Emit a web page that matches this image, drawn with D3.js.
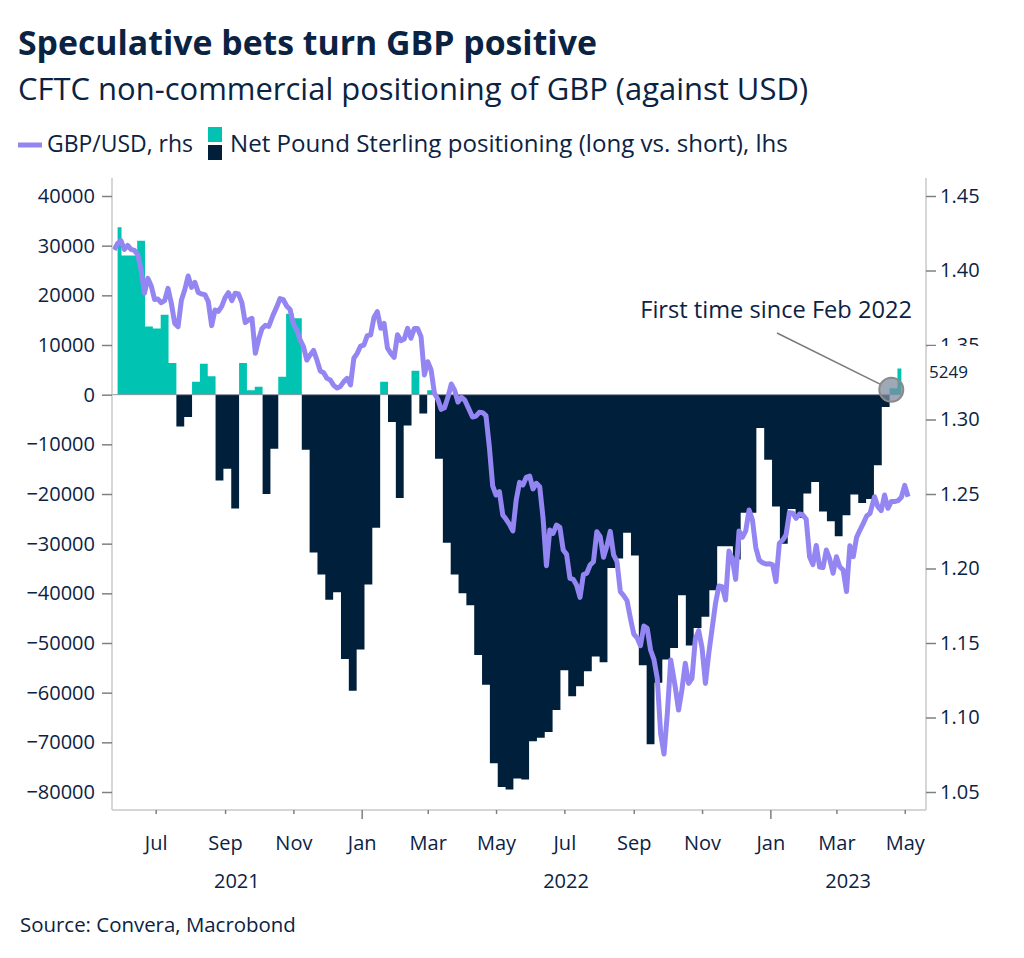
<!DOCTYPE html>
<html><head><meta charset="utf-8">
<script src="https://cdn.jsdelivr.net/npm/d3@7"></script>
<style>
body{margin:0;background:#fff;}
svg text{font-family:"Open Sans","Noto Sans",sans-serif;fill:#0b2343;}
</style></head><body>
<svg id="chart" width="1024" height="958"></svg>
<script>
// ---------- DATA ----------
const titleText = "Speculative bets turn GBP positive";
const subtitleText = "CFTC non-commercial positioning of GBP (against USD)";
const legendLineLabel = "GBP/USD, rhs";
const legendBarLabel = "Net Pound Sterling positioning (long vs. short), lhs";
const sourceText = "Source: Convera, Macrobond";
const annotationText = "First time since Feb 2022";
const lastValueLabel = "5249";

const leftTicks = [-80000,-70000,-60000,-50000,-40000,-30000,-20000,-10000,0,10000,20000,30000,40000];
const rightTicks = [1.05,1.10,1.15,1.20,1.25,1.30,1.35,1.40,1.45];
const yearLabels = ["2021","2022","2023"];

// weekly CFTC net positioning (contracts)
const barDates = [
"2021-05-28","2021-06-04","2021-06-11","2021-06-18","2021-06-25","2021-07-02","2021-07-09","2021-07-16","2021-07-23","2021-07-30",
"2021-08-06","2021-08-13","2021-08-20","2021-08-27","2021-09-03","2021-09-10","2021-09-17","2021-09-24","2021-10-01","2021-10-08",
"2021-10-15","2021-10-22","2021-10-29","2021-11-05","2021-11-12","2021-11-19","2021-11-26","2021-12-03","2021-12-10","2021-12-17",
"2021-12-24","2021-12-31","2022-01-07","2022-01-14","2022-01-21","2022-01-28","2022-02-04","2022-02-11","2022-02-18","2022-02-25",
"2022-03-04","2022-03-11","2022-03-18","2022-03-25","2022-04-01","2022-04-08","2022-04-15","2022-04-22","2022-04-29","2022-05-06",
"2022-05-13","2022-05-20","2022-05-27","2022-06-03","2022-06-10","2022-06-17","2022-06-24","2022-07-01","2022-07-08","2022-07-15",
"2022-07-22","2022-07-29","2022-08-05","2022-08-12","2022-08-19","2022-08-26","2022-09-02","2022-09-09","2022-09-16","2022-09-23",
"2022-09-30","2022-10-07","2022-10-14","2022-10-21","2022-10-28","2022-11-04","2022-11-11","2022-11-18","2022-11-25","2022-12-02",
"2022-12-09","2022-12-16","2022-12-23","2022-12-30","2023-01-06","2023-01-13","2023-01-20","2023-01-27","2023-02-03","2023-02-10",
"2023-02-17","2023-02-24","2023-03-03","2023-03-10","2023-03-17","2023-03-24","2023-03-31","2023-04-07","2023-04-14","2023-04-21",
"2023-04-28"];
const barValues = [
33700,28000,28000,31000,13700,13300,16100,6400,-6400,-4500,
2600,6200,3700,-17300,-14900,-22900,6400,900,1600,-20000,
-10900,3600,16300,15400,-11100,-31800,-36200,-41300,-39800,-53200,
-59600,-51300,-38200,-26800,2600,-5500,-20800,-6200,4800,-3800,
900,-12900,-29800,-36200,-40000,-42400,-52400,-58400,-74200,-79000,
-79500,-77300,-77500,-69800,-69100,-67900,-63500,-55500,-60700,-58700,
-55700,-52700,-53900,-34900,-33000,-27800,-32400,-54500,-70400,-58000,
-53300,-51000,-40400,-50500,-47000,-44700,-39400,-30500,-30500,-33200,
-23800,-23800,-6700,-13100,-22500,-30000,-23000,-24800,-19900,-17600,
-23500,-25500,-28500,-24300,-20100,-21800,-21000,-14200,-2500,1300,
5249];

// GBP/USD
const gbpDates = [
"2021-05-25","2021-05-28","2021-05-31","2021-06-03","2021-06-06","2021-06-09","2021-06-12","2021-06-15","2021-06-18","2021-06-21",
"2021-06-24","2021-06-27","2021-06-30","2021-07-03","2021-07-06","2021-07-09","2021-07-12","2021-07-15","2021-07-18","2021-07-21",
"2021-07-24","2021-07-27","2021-07-30","2021-08-02","2021-08-05","2021-08-08","2021-08-11","2021-08-14","2021-08-17","2021-08-20",
"2021-08-23","2021-08-26","2021-08-29","2021-09-01","2021-09-04","2021-09-07","2021-09-10","2021-09-13","2021-09-16","2021-09-19",
"2021-09-22","2021-09-25","2021-09-28","2021-10-01","2021-10-04","2021-10-07","2021-10-10","2021-10-14","2021-10-17","2021-10-20",
"2021-10-23","2021-10-26","2021-10-29","2021-11-01","2021-11-04","2021-11-07","2021-11-10","2021-11-13","2021-11-16","2021-11-19",
"2021-11-22","2021-11-25","2021-11-28","2021-12-01","2021-12-04","2021-12-07","2021-12-10","2021-12-13","2021-12-16","2021-12-19",
"2021-12-22","2021-12-25","2021-12-28","2021-12-31","2022-01-03","2022-01-06","2022-01-09","2022-01-12","2022-01-15","2022-01-18",
"2022-01-21","2022-01-24","2022-01-27","2022-01-30","2022-02-02","2022-02-05","2022-02-08","2022-02-11","2022-02-14","2022-02-17",
"2022-02-20","2022-02-23","2022-02-26","2022-03-01","2022-03-04","2022-03-07","2022-03-10","2022-03-13","2022-03-16","2022-03-19",
"2022-03-22","2022-03-25","2022-03-28","2022-03-31","2022-04-03","2022-04-06","2022-04-10","2022-04-13","2022-04-16","2022-04-19",
"2022-04-22","2022-04-25","2022-04-28","2022-05-01","2022-05-04","2022-05-07","2022-05-10","2022-05-13","2022-05-16","2022-05-19",
"2022-05-22","2022-05-25","2022-05-28","2022-05-31","2022-06-03","2022-06-06","2022-06-09","2022-06-12","2022-06-15","2022-06-18",
"2022-06-21","2022-06-24","2022-06-27","2022-06-30","2022-07-03","2022-07-06","2022-07-09","2022-07-12","2022-07-15","2022-07-18",
"2022-07-21","2022-07-24","2022-07-27","2022-07-30","2022-08-02","2022-08-05","2022-08-08","2022-08-11","2022-08-14","2022-08-17",
"2022-08-20","2022-08-23","2022-08-26","2022-08-29","2022-09-01","2022-09-04","2022-09-07","2022-09-10","2022-09-13","2022-09-16",
"2022-09-19","2022-09-22","2022-09-25","2022-09-28","2022-10-01","2022-10-04","2022-10-08","2022-10-11","2022-10-14","2022-10-17",
"2022-10-20","2022-10-23","2022-10-26","2022-10-29","2022-11-01","2022-11-04","2022-11-07","2022-11-10","2022-11-13","2022-11-16",
"2022-11-19","2022-11-22","2022-11-25","2022-11-28","2022-12-01","2022-12-04","2022-12-07","2022-12-10","2022-12-13","2022-12-16",
"2022-12-19","2022-12-22","2022-12-25","2022-12-28","2022-12-31","2023-01-03","2023-01-06","2023-01-09","2023-01-12","2023-01-15",
"2023-01-18","2023-01-21","2023-01-24","2023-01-27","2023-01-30","2023-02-02","2023-02-05","2023-02-08","2023-02-11","2023-02-14",
"2023-02-17","2023-02-20","2023-02-23","2023-02-26","2023-03-01","2023-03-04","2023-03-07","2023-03-10","2023-03-13","2023-03-16",
"2023-03-19","2023-03-22","2023-03-25","2023-03-28","2023-03-31","2023-04-04","2023-04-07","2023-04-10","2023-04-13","2023-04-16",
"2023-04-19","2023-04-22","2023-04-25","2023-04-28","2023-05-01","2023-05-04"];
const gbpRates = [
1.4138,1.4182,1.4200,1.4142,1.4169,1.4142,1.4135,1.4106,1.4003,1.3847,
1.3947,1.3898,1.3806,1.3808,1.3784,1.3798,1.3880,1.3780,1.3645,1.3623,
1.3802,1.3871,1.3963,1.3887,1.3921,1.3853,1.3842,1.3838,1.3791,1.3630,
1.3735,1.3726,1.3759,1.3818,1.3851,1.3798,1.3847,1.3842,1.3784,1.3650,
1.3668,1.3679,1.3444,1.3538,1.3610,1.3632,1.3625,1.3704,1.3753,1.3811,
1.3804,1.3762,1.3739,1.3641,1.3601,1.3534,1.3489,1.3399,1.3433,1.3464,
1.3399,1.3326,1.3314,1.3276,1.3265,1.3229,1.3211,1.3222,1.3254,1.3276,
1.3232,1.3411,1.3444,1.3493,1.3500,1.3563,1.3567,1.3686,1.3724,1.3612,
1.3645,1.3480,1.3444,1.3417,1.3569,1.3529,1.3540,1.3612,1.3545,1.3610,
1.3610,1.3556,1.3299,1.3388,1.3332,1.3176,1.3135,1.3068,1.3079,1.3149,
1.3238,1.3196,1.3117,1.3149,1.3131,1.3082,1.3017,1.3023,1.3048,1.3046,
1.3026,1.2818,1.2554,1.2493,1.2516,1.2359,1.2330,1.2296,1.2252,1.2460,
1.2578,1.2560,1.2612,1.2621,1.2534,1.2572,1.2549,1.2337,1.2019,1.2258,
1.2236,1.2292,1.2276,1.2124,1.2095,1.1934,1.1927,1.1887,1.1806,1.1959,
1.1968,1.2023,1.2046,1.2247,1.2214,1.2075,1.2151,1.2249,1.2091,1.2046,
1.1845,1.1818,1.1784,1.1666,1.1560,1.1534,1.1482,1.1614,1.1598,1.1453,
1.1390,1.1263,1.0894,1.0755,1.1028,1.1386,1.1207,1.1050,1.1185,1.1364,
1.1229,1.1263,1.1527,1.1583,1.1466,1.1229,1.1431,1.1598,1.1766,1.1883,
1.1878,1.1789,1.2117,1.2066,1.1927,1.2252,1.2209,1.2252,1.2393,1.2326,
1.2140,1.2057,1.2039,1.2030,1.2032,1.2026,1.1912,1.2169,1.2191,1.2225,
1.2375,1.2371,1.2337,1.2366,1.2359,1.2330,1.2079,1.2026,1.2155,1.2010,
1.2006,1.2124,1.2064,1.1968,1.2079,1.2012,1.1990,1.1845,1.2153,1.2079,
1.2209,1.2258,1.2303,1.2352,1.2370,1.2482,1.2415,1.2388,1.2493,1.2404,
1.2449,1.2449,1.2455,1.2478,1.2558,1.2482];

// annotation anchor (data coords)
const annotDate = "2023-04-19";
const annotValue = 1000;

// ---------- STYLE / LAYOUT ----------
const C = {text:"#0b2343", teal:"#00c4b1", navy:"#001f3b", purple:"#9486f2", axis:"#c9c9c9", tick:"#808080"};
const P = {left:112, right:926, top:178, bottom:810};

const parse = d3.utcParse("%Y-%m-%d");
const bars = barDates.map((d,i)=>({date:parse(d), value:barValues[i]}));
const fx = gbpDates.map((d,i)=>({date:parse(d), value:gbpRates[i]}));

const svg = d3.select("#chart");
const x = d3.scaleUtc().domain([parse("2021-05-23"), parse("2023-05-20")]).range([P.left, P.right]);
const yL = d3.scaleLinear().domain([-80000, 40000]).range([792, 196]);
const yR = d3.scaleLinear().domain([1.05, 1.45]).range([792, 196]);

function fit(sel, target){
  const fs = parseFloat(sel.attr("font-size"));
  const w = sel.node().getComputedTextLength();
  sel.attr("font-size", (fs*target/w).toFixed(2));
  return sel;
}

// titles
fit(svg.append("text").attr("x",18).attr("y",55).attr("font-size",30).attr("font-weight",700).text(titleText), 579);
fit(svg.append("text").attr("x",18).attr("y",100).attr("font-size",26).text(subtitleText), 790);

// legend
svg.append("line").attr("x1",18).attr("x2",42).attr("y1",145).attr("y2",145)
  .attr("stroke",C.purple).attr("stroke-width",5);
fit(svg.append("text").attr("x",47).attr("y",152).attr("font-size",20).text(legendLineLabel), 146);
svg.append("rect").attr("x",208).attr("y",127).attr("width",14).attr("height",15).attr("fill",C.teal);
svg.append("rect").attr("x",208).attr("y",145).attr("width",14).attr("height",15).attr("fill",C.navy);
fit(svg.append("text").attr("x",230).attr("y",152).attr("font-size",20).text(legendBarLabel), 558);

// bars (step areas split by sign)
const posArea = d3.area().curve(d3.curveStep).x(d=>x(d.date)).y0(yL(0)).y1(d=>yL(Math.max(0,d.value)));
const negArea = d3.area().curve(d3.curveStep).x(d=>x(d.date)).y0(yL(0)).y1(d=>yL(Math.min(0,d.value)));
svg.append("path").datum(bars).attr("d",negArea).attr("fill",C.navy);
svg.append("path").datum(bars).attr("d",posArea).attr("fill",C.teal);
// zero line
svg.append("line").attr("x1",P.left).attr("x2",x(bars[bars.length-1].date))
  .attr("y1",yL(0)).attr("y2",yL(0)).attr("stroke","#8c96a3").attr("stroke-width",1);

// GBP/USD line
svg.append("path").datum(fx).attr("fill","none").attr("stroke",C.purple).attr("stroke-width",5)
  .attr("stroke-linejoin","round").attr("stroke-linecap","butt")
  .attr("d", d3.line().x(d=>x(d.date)).y(d=>yR(d.value)));

// axes frames
const frame = svg.append("g").attr("stroke",C.axis).attr("stroke-width",1.5);
frame.append("line").attr("x1",P.left).attr("x2",P.left).attr("y1",P.top).attr("y2",P.bottom);
frame.append("line").attr("x1",P.right).attr("x2",P.right).attr("y1",P.top).attr("y2",P.bottom);
frame.append("line").attr("x1",P.left).attr("x2",P.right).attr("y1",P.bottom).attr("y2",P.bottom);

// left axis
const gl = svg.append("g").attr("transform",`translate(${P.left},0)`)
  .call(d3.axisLeft(yL).tickValues(leftTicks).tickSize(10).tickPadding(7).tickFormat(d3.format("d")));
// right axis
const gr = svg.append("g").attr("transform",`translate(${P.right},0)`)
  .call(d3.axisRight(yR).tickValues(rightTicks).tickSize(10).tickPadding(4).tickFormat(d3.format(".2f")));
// bottom axis
const monthTicks = d3.utcMonth.every(2).range(x.domain()[0], x.domain()[1]);
const gb = svg.append("g").attr("transform",`translate(0,${P.bottom})`)
  .call(d3.axisBottom(x).tickValues(monthTicks).tickSize(4).tickPadding(8).tickFormat(d3.utcFormat("%b")));
gb.selectAll(".tick line").filter(d=>d.getUTCMonth()===0).attr("y2",9);
gb.selectAll(".tick text").attr("y",33).attr("dy","0.35em");

[gl,gr,gb].forEach(g=>{
  g.select(".domain").remove();
  g.selectAll(".tick line").attr("stroke",C.tick).attr("stroke-width",1.5);
  g.selectAll(".tick text").attr("font-size",20).attr("fill",C.text)
    .attr("font-family",'"Open Sans","Noto Sans",sans-serif');
});

// year labels centred on the visible part of each year
const [d0,d1] = x.domain();
yearLabels.forEach(yr=>{
  const a = new Date(Math.max(+d0, Date.UTC(+yr,0,1)));
  const b = new Date(Math.min(+d1, Date.UTC(+yr+1,0,1)));
  svg.append("text").attr("x",(x(a)+x(b))/2).attr("y",881).attr("dy","0.35em")
    .attr("text-anchor","middle").attr("font-size",20).text(yr);
});

// source
fit(svg.append("text").attr("x",20).attr("y",932).attr("font-size",18).text(sourceText), 276);

// annotation
const cx = x(parse(annotDate)), cy = yL(annotValue), r = 12;
const tx = 777, ty = 333;
const ang = Math.atan2(ty-cy, tx-cx);
svg.append("line").attr("x1",tx).attr("y1",ty).attr("x2",cx+r*Math.cos(ang)).attr("y2",cy+r*Math.sin(ang))
  .attr("stroke","#7a7a7a").attr("stroke-width",1.5);
svg.append("circle").attr("cx",cx).attr("cy",cy).attr("r",r)
  .attr("fill","#7d8ca0").attr("fill-opacity",0.75).attr("stroke","#8a8a8a").attr("stroke-width",2);
const at = svg.append("text").attr("x",912).attr("y",318).attr("text-anchor","end").attr("font-size",20).text(annotationText);
fit(at, 272);

// last value label with white background (covers part of the 1.35 label)
svg.append("rect").attr("x",928).attr("y",346).attr("width",60).attr("height",42).attr("fill","#fff");
svg.append("text").attr("x",929).attr("y",378).attr("font-size",17).text(lastValueLabel);
</script>
</body></html>
